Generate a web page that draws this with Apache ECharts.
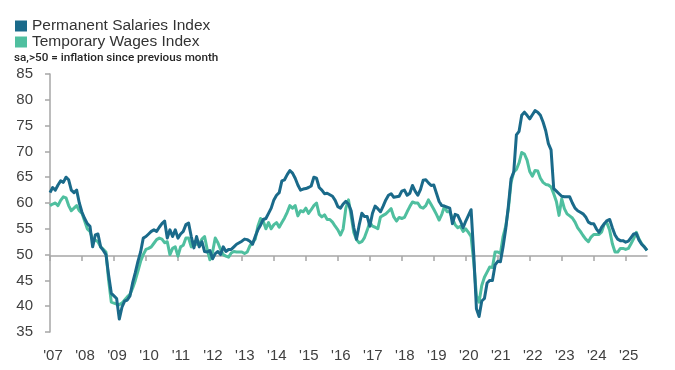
<!DOCTYPE html>
<html>
<head>
<meta charset="utf-8">
<script src="https://cdn.jsdelivr.net/npm/echarts@6/dist/echarts.min.js"></script>
<style>
html,body{margin:0;padding:0;background:#fff;}
#chart{width:675px;height:370px;}
</style>
</head>
<body>
<div id="chart"></div>
<script>
const seriesNames = ['Permanent Salaries Index', 'Temporary Wages Index'];
const subtitle = 'sa,>50 = inflation since previous month';
const years = [2007,2008,2009,2010,2011,2012,2013,2014,2015,2016,2017,2018,2019,2020,2021,2022,2023,2024,2025];
const yTicks = [35,40,45,50,55,60,65,70,75,80,85];
const baseline = 50;

const permanent = [
62.0,63.0,62.5,63.5,64.3,64.0,65.0,64.5,62.5,62.0,62.5,60.0,
58.2,57.0,56.0,55.5,51.5,53.8,54.0,51.5,50.8,50.0,46.0,42.5,
42.0,41.5,37.5,39.8,41.0,41.2,42.0,44.5,46.5,48.7,50.5,53.2,
53.5,54.0,54.5,54.8,54.5,55.3,56.0,56.5,53.2,54.8,53.5,54.8,
53.2,54.0,54.5,55.8,56.1,53.5,51.3,53.5,51.5,52.5,50.6,50.5,
50.8,49.2,50.2,50.6,50.0,51.5,50.6,51.0,51.0,51.5,52.0,52.3,
52.6,53.0,52.9,52.6,52.0,53.5,54.8,55.7,56.8,57.0,58.0,59.0,
60.6,61.5,62.0,64.3,64.5,65.5,66.3,65.8,64.8,63.5,62.5,62.7,
62.8,63.0,63.3,65.0,64.8,63.0,62.5,61.8,61.9,61.6,61.3,60.5,
59.3,59.0,59.8,60.3,59.8,58.5,55.2,53.0,55.7,58.0,57.4,57.4,
55.5,58.0,59.4,58.9,58.3,59.4,60.6,61.5,61.8,61.1,61.2,61.3,
62.3,62.5,61.5,61.9,63.4,62.3,61.5,62.6,64.4,64.5,63.9,63.4,
63.5,61.9,60.3,59.5,59.4,59.2,59.0,56.0,57.8,57.6,56.5,55.2,
56.5,57.6,58.7,50.0,39.5,38.0,41.0,41.5,44.5,45.0,45.0,48.0,
48.7,48.6,51.5,55.0,59.5,64.7,66.0,73.2,73.9,77.0,77.6,77.0,
76.3,77.1,77.9,77.6,77.0,75.7,74.0,71.5,70.3,62.8,62.3,61.8,
61.3,61.2,61.2,61.2,60.0,59.0,58.5,58.2,57.9,57.3,56.3,56.0,
56.0,55.0,54.3,55.3,56.0,56.6,56.8,55.2,53.8,53.0,52.7,52.7,
52.4,52.6,53.3,54.0,54.1,52.8,52.0,51.5,50.8
];

const temporary = [
59.5,59.8,60.0,59.5,60.5,61.2,61.0,59.5,58.5,59.0,59.5,58.5,
58.0,56.5,55.0,54.5,53.0,52.8,52.5,51.5,51.0,50.5,45.0,40.8,
40.6,40.4,40.3,40.6,41.2,41.8,42.3,43.5,45.0,46.8,48.7,50.0,
51.0,51.2,51.5,52.2,52.9,53.2,53.0,52.3,52.5,50.0,51.2,51.5,
49.7,51.5,51.8,53.2,53.2,51.5,52.5,52.0,52.0,53.0,53.5,51.0,
49.0,50.5,53.2,52.3,51.0,50.0,49.7,49.5,50.3,50.6,50.5,50.5,
50.5,50.2,50.5,51.7,52.3,53.0,55.5,57.0,56.5,55.0,56.2,55.0,
55.8,56.2,55.3,56.2,57.1,58.2,59.5,59.0,59.5,57.5,58.5,58.3,
59.0,58.0,58.7,59.5,60.0,57.8,57.3,57.7,56.8,56.8,56.3,55.5,
54.8,53.8,55.0,59.0,60.6,57.5,54.3,52.9,52.3,52.5,53.3,54.7,
56.3,55.5,55.3,55.0,57.3,57.6,57.9,58.4,58.9,57.3,56.5,57.2,
57.0,57.2,58.3,59.3,60.2,60.0,60.0,59.2,59.0,59.5,60.6,59.7,
58.8,57.8,56.7,57.8,59.3,58.3,58.3,57.0,55.8,55.2,55.5,54.5,
55.0,54.3,53.5,48.5,42.0,40.8,44.0,45.6,46.6,47.6,47.5,50.5,
50.5,50.2,53.5,55.5,58.9,64.0,66.0,66.5,67.8,69.8,69.5,68.3,
66.1,65.2,66.3,66.2,64.8,64.0,63.6,63.5,63.1,61.8,60.3,57.6,
60.8,58.9,57.9,57.5,57.1,56.3,55.2,54.5,53.7,53.0,52.5,53.4,
53.9,53.9,53.9,54.4,56.0,56.1,54.7,52.1,50.5,50.5,51.2,51.2,
51.0,51.2,52.1,53.1,54.3,53.0,52.1,51.5,50.8
];

// monthly categories
const months = [];
years.forEach(y => { for (let m = 1; m <= 12; m++) months.push(y + '-' + (m < 10 ? '0' + m : m)); });
const categories = months.slice(0, permanent.length);

const DARK = '#1a6a8a';
const LIGHT = '#4fbf9f';
const AXIS = '#a6a6a6';
const TXT = '#404040';
const FONT = '"Liberation Sans", Arial, sans-serif';
const isJan = (i) => i % 12 === 0;

const chart = echarts.init(document.getElementById('chart'), null, {renderer: 'canvas'});
chart.setOption({
  animation: false,
  backgroundColor: '#fff',
  title: {
    text: subtitle,
    left: 9, top: 47,
    textStyle: {fontFamily: 'Roboto, sans-serif', fontSize: 11.7, fontWeight: 500, color: '#262626'}
  },
  legend: {
    data: seriesNames,
    orient: 'vertical',
    left: 10, top: 13,
    icon: 'rect',
    itemWidth: 12, itemHeight: 11,
    itemGap: 0,
    textStyle: {fontFamily: FONT, fontSize: 15.5, color: '#333', lineHeight: 15}
  },
  grid: [
    {left: 50, right: 28, top: 74, bottom: 38},
    {left: 50, right: 28, top: 74, bottom: 114}
  ],
  xAxis: [
    {
      type: 'category', gridIndex: 0, data: categories, boundaryGap: false,
      axisLine: {show: false}, axisTick: {show: false},
      axisLabel: {
        interval: (i) => isJan(i),
        formatter: (v) => "'" + v.slice(2, 4),
        fontFamily: FONT, fontSize: 15, color: TXT, margin: 16,
        padding: [0, 0, 0, 6]
      },
      splitLine: {show: false}
    },
    {
      type: 'category', gridIndex: 1, data: categories, boundaryGap: false,
      axisLine: {show: true, lineStyle: {color: AXIS, width: 1.5}},
      axisTick: {show: true, interval: (i) => isJan(i), length: 5, lineStyle: {color: AXIS, width: 1.5}},
      axisLabel: {show: false},
      splitLine: {show: false}
    }
  ],
  yAxis: [
    {
      type: 'value', gridIndex: 0, min: yTicks[0], max: yTicks[yTicks.length - 1], interval: 5,
      axisLine: {show: true, lineStyle: {color: AXIS, width: 1.5}},
      axisTick: {show: true, length: 5, lineStyle: {color: AXIS, width: 1.5}},
      axisLabel: {fontFamily: FONT, fontSize: 15, color: TXT, margin: 17},
      splitLine: {show: false}
    },
    {
      type: 'value', gridIndex: 1, min: 0, max: 1, show: false
    }
  ],
  series: [
    {
      name: seriesNames[1], type: 'line', xAxisIndex: 0, yAxisIndex: 0,
      data: temporary, symbol: 'none', showSymbol: false, z: 3,
      itemStyle: {color: LIGHT},
      lineStyle: {color: LIGHT, width: 3, join: 'round'}
    },
    {
      name: seriesNames[0], type: 'line', xAxisIndex: 0, yAxisIndex: 0,
      data: permanent, symbol: 'none', showSymbol: false, z: 4,
      itemStyle: {color: DARK},
      lineStyle: {color: DARK, width: 3, join: 'round'}
    }
  ]
});
</script>
</body>
</html>
